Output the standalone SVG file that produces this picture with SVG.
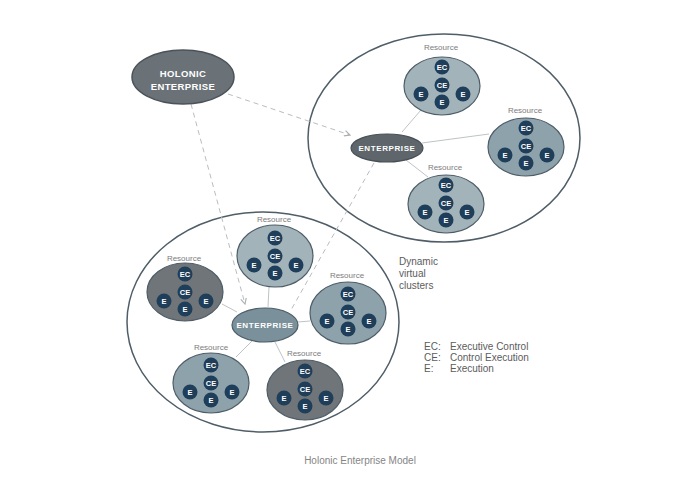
<svg xmlns="http://www.w3.org/2000/svg" xmlns:xlink="http://www.w3.org/1999/xlink" width="680" height="490" viewBox="0 0 680 490">
<style>
text{font-family:"Liberation Sans",Arial,sans-serif}
.cluster{fill:#fff;stroke:#4e5d67;stroke-width:1.5}
.res{stroke:#4e5d67;stroke-width:1.2}
.light{fill:#a2b3ba}
.mid{fill:#8ea2ab}
.dark{fill:#6f7579}
.dot{fill:#1f3e5a}
.dt{fill:#fff;font-size:7.5px;font-weight:bold;text-anchor:middle}
.lbl{fill:#7c7c7c;font-size:8px;text-anchor:middle}
.ent{fill:#fff;font-size:8px;font-weight:bold;text-anchor:middle;letter-spacing:0.6px}
.dash{fill:none;stroke:#b9bdc0;stroke-width:1;stroke-dasharray:5 4}
.link{fill:none;stroke:#bfc3c5;stroke-width:1}
.note{fill:#5c5c5c;font-size:10px}
</style>
<defs>
<marker id="arr" viewBox="0 0 10 10" refX="9" refY="5" markerWidth="7" markerHeight="7" orient="auto" markerUnits="userSpaceOnUse">
<path d="M1,1 L9,5 L1,9" fill="none" stroke="#a9aeb1" stroke-width="1.6"/>
</marker>
<g id="inner">
<circle class="dot" cx="0" cy="-18" r="7.5"/><text class="dt" x="0" y="-15.3">EC</text>
<circle class="dot" cx="0" cy="0" r="7.5"/><text class="dt" x="0" y="2.7">CE</text>
<circle class="dot" cx="-21" cy="9" r="7.5"/><text class="dt" x="-21" y="11.7">E</text>
<circle class="dot" cx="21" cy="9" r="7.5"/><text class="dt" x="21" y="11.7">E</text>
<circle class="dot" cx="0" cy="17" r="7.5"/><text class="dt" x="0" y="19.7">E</text>
</g>
</defs>

<g id="cluster-top">
<ellipse class="cluster" cx="444" cy="138" rx="136" ry="104"/>
</g>
<g id="cluster-bottom">
<ellipse class="cluster" cx="263" cy="322" rx="136" ry="110"/>
</g>

<g id="connectors">
<line class="link" x1="402" y1="132" x2="421" y2="110"/>
<line class="link" x1="422" y1="143" x2="489" y2="134"/>
<line class="link" x1="406" y1="160" x2="428" y2="177"/>
<line class="link" x1="269" y1="287" x2="268" y2="307"/>
<line class="link" x1="222" y1="304" x2="237" y2="312"/>
<line class="link" x1="298" y1="322" x2="310" y2="321"/>
<line class="link" x1="252" y1="341" x2="236" y2="357"/>
<line class="link" x1="275" y1="342" x2="285" y2="362"/>
<line class="dash" x1="228" y1="94" x2="350" y2="135" marker-end="url(#arr)"/>
<line class="dash" x1="191" y1="104" x2="245" y2="304" marker-end="url(#arr)"/>
<line class="dash" x1="374" y1="163" x2="291" y2="310"/>
</g>

<g id="holonic-enterprise">
<ellipse cx="183" cy="77" rx="51" ry="27" fill="#6a7277" stroke="#4a5359" stroke-width="1.5"/>
<text class="ent" x="183" y="77" style="font-size:9.5px;letter-spacing:0.4px">HOLONIC</text>
<text class="ent" x="183" y="90" style="font-size:9.5px;letter-spacing:0.4px">ENTERPRISE</text>
</g>

<g id="enterprise-top">
<ellipse cx="387" cy="148" rx="36" ry="14" fill="#5e666b" stroke="#474f55" stroke-width="1.2"/>
<text class="ent" x="387" y="151">ENTERPRISE</text>
</g>

<g id="resource-t1">
<text class="lbl" x="441" y="50">Resource</text>
<ellipse class="res light" cx="442" cy="86" rx="38" ry="29"/>
<use xlink:href="#inner" x="442" y="85"/>
</g>
<g id="resource-t2">
<text class="lbl" x="525" y="113">Resource</text>
<ellipse class="res mid" cx="526" cy="147" rx="38" ry="29"/>
<use xlink:href="#inner" x="526" y="146"/>
</g>
<g id="resource-t3">
<text class="lbl" x="445" y="170">Resource</text>
<ellipse class="res light" cx="446" cy="204" rx="38" ry="29"/>
<use xlink:href="#inner" x="446" y="203"/>
</g>

<g id="enterprise-bottom">
<ellipse cx="265" cy="325" rx="33" ry="17" fill="#7a909a" stroke="#4e5d67" stroke-width="1.2"/>
<text class="ent" x="265" y="328">ENTERPRISE</text>
</g>

<g id="resource-b1">
<text class="lbl" x="274" y="222">Resource</text>
<ellipse class="res light" cx="275" cy="256" rx="38" ry="31"/>
<use xlink:href="#inner" x="275" y="256"/>
</g>
<g id="resource-b2">
<text class="lbl" x="184" y="261">Resource</text>
<ellipse class="res dark" cx="185" cy="292" rx="38" ry="29"/>
<use xlink:href="#inner" x="185" y="292"/>
</g>
<g id="resource-b3">
<text class="lbl" x="347" y="278">Resource</text>
<ellipse class="res mid" cx="348" cy="313" rx="38" ry="31"/>
<use xlink:href="#inner" x="348" y="312"/>
</g>
<g id="resource-b4">
<text class="lbl" x="211" y="350">Resource</text>
<ellipse class="res mid" cx="211" cy="383" rx="38" ry="30"/>
<use xlink:href="#inner" x="211" y="383"/>
</g>
<g id="resource-b5">
<text class="lbl" x="304" y="356">Resource</text>
<ellipse class="res dark" cx="305" cy="390" rx="38" ry="30"/>
<use xlink:href="#inner" x="305" y="389"/>
</g>

<g id="cluster-label">
<text class="note" x="399" y="265">Dynamic</text>
<text class="note" x="399" y="277">virtual</text>
<text class="note" x="399" y="289">clusters</text>
</g>

<g id="legend">
<text class="note" x="424" y="350">EC:</text><text class="note" x="450" y="350">Executive Control</text>
<text class="note" x="424" y="361">CE:</text><text class="note" x="450" y="361">Control Execution</text>
<text class="note" x="424" y="372">E:</text><text class="note" x="450" y="372">Execution</text>
</g>

<text x="360" y="464" text-anchor="middle" style="font-size:10px;fill:#858585">Holonic Enterprise Model</text>
</svg>
